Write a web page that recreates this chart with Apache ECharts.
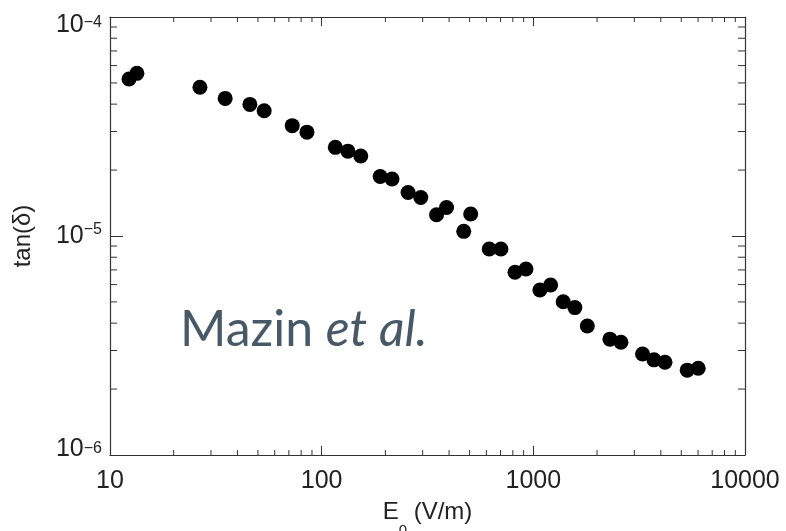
<!DOCTYPE html>
<html>
<head>
<meta charset="utf-8">
<script src="https://cdn.jsdelivr.net/npm/echarts@6/dist/echarts.min.js"></script>
<style>
  html, body { margin: 0; padding: 0; background: #fff; overflow: hidden; }
  #chart { width: 786px; height: 531px; }
</style>
</head>
<body>
<div id="chart"></div>
<script>
// field amplitude E0 (V/m)
const fieldE0 = [12.3, 13.4, 26.6, 35.0, 45.8, 53.5, 72.6, 85.2, 116, 133, 153, 189, 215,
  256, 294, 349, 389, 469, 506, 619, 703, 819, 923, 1074, 1207, 1384, 1571, 1799,
  2301, 2594, 3281, 3715, 4188, 5333, 6012];
// loss tangent tan(delta)
const lossTan = [5.21e-5, 5.53e-5, 4.78e-5, 4.25e-5, 3.99e-5, 3.73e-5, 3.19e-5, 2.98e-5,
  2.54e-5, 2.44e-5, 2.32e-5, 1.87e-5, 1.82e-5, 1.58e-5, 1.50e-5, 1.25e-5, 1.35e-5,
  1.05e-5, 1.26e-5, 8.72e-6, 8.72e-6, 6.83e-6, 7.07e-6, 5.67e-6, 5.97e-6, 5.01e-6,
  4.71e-6, 3.88e-6, 3.38e-6, 3.27e-6, 2.89e-6, 2.72e-6, 2.65e-6, 2.44e-6, 2.49e-6];

const xDecades = [10, 100, 1000];
const yDecades = [1e-6, 1e-5];
const minorMult = [2, 3, 4, 5, 6, 7, 8, 9];

const xMinor = [];
xDecades.forEach(d => minorMult.forEach(m => xMinor.push(d * m)));
const yMinor = [];
yDecades.forEach(d => minorMult.forEach(m => yMinor.push(d * m)));

const X_MIN = 10, X_MAX = 10000, Y_MIN = 1e-6, Y_MAX = 1e-4;
const tickColor = '#333';
const font = 'Liberation Sans';

const el = document.getElementById('chart');
const chart = echarts.init(el, null, { renderer: 'canvas', width: 786, height: 531 });

// top label sits a bit low, bottom one a bit high (as in the original figure)
function expLabel(v) {
  const e = Math.round(Math.log10(v));
  const k = e === -4 ? 'top' : (e === -6 ? 'bot' : 'mid');
  const s = e === -4 ? 'sTop' : 's';
  return '{' + k + '|10}{' + s + '|\u2212' + Math.abs(e) + '}';
}

function axisCommon(extra) {
  return Object.assign({
    type: 'log',
    logBase: 10,
    axisLine: { show: true, onZero: false, lineStyle: { color: tickColor, width: 1.2 } },
    splitLine: { show: false },
    minorTick: { show: false },
  }, extra);
}

const base = { fontFamily: font, fontSize: 25, color: '#222', lineHeight: 28 };
const sup = { fontFamily: font, fontSize: 16, color: '#222', verticalAlign: 'top', lineHeight: 14 };

const option = {
  animation: false,
  backgroundColor: '#fff',
  grid: { left: 110, right: 41, top: 17, bottom: 76, containLabel: false, outerBoundsMode: 'none' },
  xAxis: [
    axisCommon({
      min: X_MIN, max: X_MAX, splitNumber: 3,
      name: 'E{sub|0} (V/m)',
      nameLocation: 'middle',
      nameGap: 45,
      nameTextStyle: {
        fontFamily: font, fontSize: 24, color: '#222',
        rich: { sub: { fontFamily: font, fontSize: 15, color: '#222', verticalAlign: 'bottom', padding: [0, 0, -14, 0] } }
      },
      axisTick: { show: true, inside: true, length: 9, lineStyle: { color: tickColor } },
      axisLabel: { fontFamily: font, fontSize: 25, color: '#222', margin: 14,
        formatter: v => String(Math.round(v)) },
    }),
    axisCommon({
      min: X_MIN, max: X_MAX, splitNumber: 3, position: 'top',
      axisTick: { show: true, inside: true, length: 9, lineStyle: { color: tickColor } },
      axisLabel: { show: false },
    }),
  ],
  yAxis: [
    axisCommon({
      min: Y_MIN, max: Y_MAX, splitNumber: 2,
      name: 'tan(\u03b4)',
      nameLocation: 'middle',
      nameGap: 75,
      nameRotate: 90,
      nameTextStyle: { fontFamily: font, fontSize: 24, color: '#222' },
      axisTick: { show: true, inside: true, length: 13, lineStyle: { color: tickColor } },
      axisLabel: {
        margin: 8,
        formatter: expLabel,
        rich: {
          mid: base,
          top: Object.assign({}, base, { padding: [16, 0, 0, 0] }),
          bot: Object.assign({}, base, { padding: [0, 0, 12, 0] }),
          s: sup,
          sTop: Object.assign({}, sup, { padding: [12, 0, 0, 0] }),
        },
      },
    }),
    axisCommon({
      min: Y_MIN, max: Y_MAX, splitNumber: 2, position: 'right',
      axisTick: { show: true, inside: true, length: 13, lineStyle: { color: tickColor } },
      axisLabel: { show: false },
    }),
  ],
  graphic: [{
    type: 'text',
    left: 180,
    top: 305,
    style: {
      text: 'Mazin {i|et al.}',
      font: '50px Lato',
      fill: '#475867',
      rich: { i: { fontFamily: 'Lato', fontSize: 50, fontStyle: 'italic', fill: '#475867' } },
    },
  }],
  series: [
    {
      type: 'custom',
      coordinateSystem: 'cartesian2d',
      silent: true,
      clip: false,
      data: xMinor.map(v => [v, Y_MIN]),
      renderItem: (params, api) => {
        const p = api.coord([api.value(0), Y_MIN]);
        const cs = params.coordSys;
        const st = { stroke: tickColor, lineWidth: 1 };
        return { type: 'group', children: [
          { type: 'line', shape: { x1: p[0], y1: cs.y + cs.height, x2: p[0], y2: cs.y + cs.height - 5 }, style: st },
          { type: 'line', shape: { x1: p[0], y1: cs.y, x2: p[0], y2: cs.y + 5 }, style: st },
        ] };
      },
    },
    {
      type: 'custom',
      coordinateSystem: 'cartesian2d',
      silent: true,
      clip: false,
      data: yMinor.map(v => [X_MIN, v]),
      renderItem: (params, api) => {
        const p = api.coord([X_MIN, api.value(1)]);
        const cs = params.coordSys;
        const st = { stroke: tickColor, lineWidth: 1 };
        return { type: 'group', children: [
          { type: 'line', shape: { x1: cs.x, y1: p[1], x2: cs.x + 7, y2: p[1] }, style: st },
          { type: 'line', shape: { x1: cs.x + cs.width, y1: p[1], x2: cs.x + cs.width - 7, y2: p[1] }, style: st },
        ] };
      },
    },
    {
      type: 'scatter',
      data: fieldE0.map((x, i) => [x, lossTan[i]]),
      symbol: 'circle',
      symbolSize: 15,
      itemStyle: { color: '#000', opacity: 1 },
      z: 5,
    },
  ],
};

chart.setOption(option);
</script>
</body>
</html>
